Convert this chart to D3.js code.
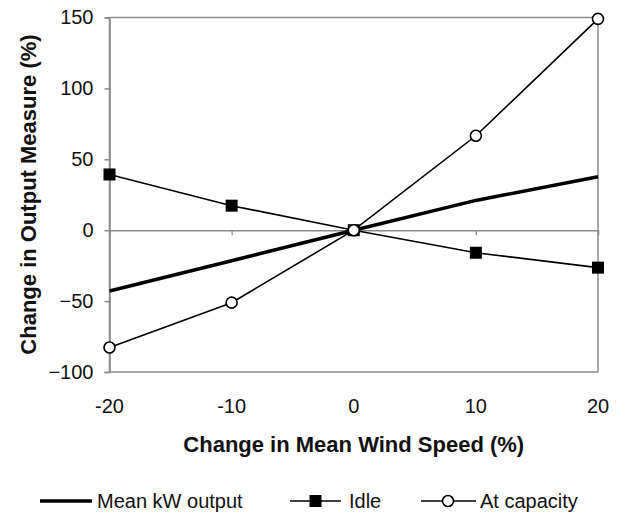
<!DOCTYPE html>
<html>
<head>
<meta charset="utf-8">
<script src="https://cdn.jsdelivr.net/npm/d3@7"></script>
<style>
  html, body { margin: 0; padding: 0; background: #fff; }
  svg { display: block; font-family: "Liberation Sans", Arial, sans-serif; }
</style>
</head>
<body>
<svg id="chart" width="623" height="513"></svg>
<script>
const xValues = [-20, -10, 0, 10, 20];
const meanKW = [-42.9, -21.5, 0, 21, 37.7];
const idle = [39.3, 17.3, 0, -15.9, -26.4];
const atCapacity = [-82.7, -51.1, 0, 66.6, 149];
const yTicks = [-100, -50, 0, 50, 100, 150];
const xTicks = [-20, -10, 0, 10, 20];
const seriesNames = ["Mean kW output", "Idle", "At capacity"];
const xTitle = "Change in Mean Wind Speed (%)";
const yTitle = "Change in Output Measure (%)";

(function () {
const svg = d3.select("#chart");
const pLeft = 109.5, pRight = 598, pTop = 17.5, pBottom = 372;
const axisColor = "#8c8c8c";

const x = d3.scaleLinear().domain([-20, 20]).range([pLeft, pRight]);
const y = d3.scaleLinear().domain([-100, 150]).range([pBottom, pTop]);

// plot area border
svg.append("rect")
  .attr("x", pLeft).attr("y", pTop)
  .attr("width", pRight - pLeft).attr("height", pBottom - pTop)
  .attr("fill", "none").attr("stroke", axisColor).attr("stroke-width", 1.5);

// y axis
const yAxis = svg.append("g")
  .attr("transform", `translate(${pLeft},0)`)
  .call(d3.axisLeft(y).tickValues(yTicks).tickSize(5).tickPadding(11).tickFormat(d3.format("d")));
yAxis.select(".domain").attr("stroke", axisColor).attr("stroke-width", 1.5);
yAxis.selectAll(".tick line").attr("stroke", axisColor).attr("stroke-width", 1.5);
yAxis.selectAll(".tick text")
  .attr("font-size", 20).attr("fill", "#111")
  .attr("font-family", "'Liberation Sans', Arial, sans-serif");

// zero line with x ticks hanging down
const xAxis = svg.append("g")
  .attr("transform", `translate(0,${y(0)})`)
  .call(d3.axisBottom(x).tickValues(xTicks).tickSize(5).tickFormat(""));
xAxis.select(".domain").attr("stroke", axisColor).attr("stroke-width", 1.5);
xAxis.selectAll(".tick line").attr("stroke", axisColor).attr("stroke-width", 1.2);

// x tick labels below plot
svg.append("g").selectAll("text")
  .data(xTicks).join("text")
  .attr("x", d => x(d)).attr("y", 413)
  .attr("text-anchor", "middle")
  .attr("font-size", 20).attr("fill", "#111")
  .text(d => d);

// axis titles
svg.append("text")
  .attr("x", (pLeft + pRight) / 2).attr("y", 452)
  .attr("text-anchor", "middle")
  .attr("font-size", 22).attr("font-weight", "bold").attr("fill", "#111")
  .text(xTitle);

svg.append("text")
  .attr("transform", `translate(35.5,194.5) rotate(-90)`)
  .attr("text-anchor", "middle")
  .attr("font-size", 22).attr("font-weight", "bold").attr("fill", "#111")
  .text(yTitle);

const line = d3.line().x((d, i) => x(xValues[i])).y(d => y(d));

// series lines
svg.append("path").datum(meanKW)
  .attr("d", line).attr("fill", "none").attr("stroke", "#000").attr("stroke-width", 3.5);
svg.append("path").datum(idle)
  .attr("d", line).attr("fill", "none").attr("stroke", "#000").attr("stroke-width", 1.6);
svg.append("path").datum(atCapacity)
  .attr("d", line).attr("fill", "none").attr("stroke", "#000").attr("stroke-width", 1.6);

// markers
const sq = 12;
svg.append("g").selectAll("rect")
  .data(idle).join("rect")
  .attr("x", (d, i) => x(xValues[i]) - sq / 2)
  .attr("y", d => y(d) - sq / 2)
  .attr("width", sq).attr("height", sq)
  .attr("fill", "#000");

svg.append("g").selectAll("circle")
  .data(atCapacity).join("circle")
  .attr("cx", (d, i) => x(xValues[i]))
  .attr("cy", d => y(d))
  .attr("r", 5.5)
  .attr("fill", "#fff").attr("stroke", "#000").attr("stroke-width", 1.6);

// legend
const ly = 501, lty = 508;
const lg = svg.append("g");
lg.append("line").attr("x1", 40).attr("x2", 92).attr("y1", ly).attr("y2", ly)
  .attr("stroke", "#000").attr("stroke-width", 3.5);
lg.append("text").attr("x", 97).attr("y", lty).attr("font-size", 20).attr("fill", "#111").text(seriesNames[0]);

lg.append("line").attr("x1", 290).attr("x2", 341).attr("y1", ly).attr("y2", ly)
  .attr("stroke", "#000").attr("stroke-width", 1.6);
lg.append("rect").attr("x", 315.5 - sq / 2).attr("y", ly - sq / 2).attr("width", sq).attr("height", sq).attr("fill", "#000");
lg.append("text").attr("x", 349).attr("y", lty).attr("font-size", 20).attr("fill", "#111").text(seriesNames[1]);

lg.append("line").attr("x1", 421).attr("x2", 476).attr("y1", ly).attr("y2", ly)
  .attr("stroke", "#000").attr("stroke-width", 1.6);
lg.append("circle").attr("cx", 448).attr("cy", ly).attr("r", 5.5)
  .attr("fill", "#fff").attr("stroke", "#000").attr("stroke-width", 1.6);
lg.append("text").attr("x", 480).attr("y", lty).attr("font-size", 20).attr("fill", "#111").text(seriesNames[2]);
})();
</script>
</body>
</html>
